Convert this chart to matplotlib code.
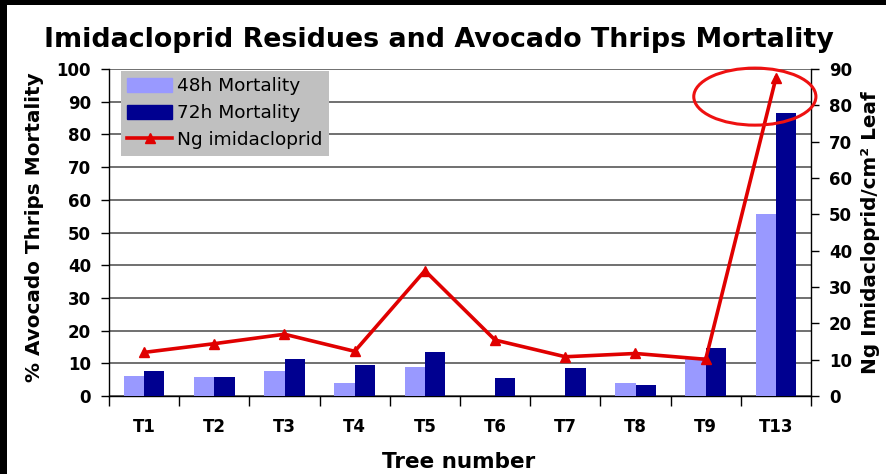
import matplotlib
matplotlib.use("Agg")
import matplotlib.pyplot as plt
from matplotlib.patches import Ellipse, Rectangle
from matplotlib.lines import Line2D
import numpy as np

trees = ["T1", "T2", "T3", "T4", "T5", "T6", "T7", "T8", "T9", "T13"]
mortality_48h = [6.2, 5.8, 7.6, 4.0, 8.9, 0.0, 0.0, 4.0, 12.0, 55.7]
mortality_72h = [7.6, 5.8, 11.3, 9.5, 13.5, 5.6, 8.6, 3.4, 14.8, 86.5]
ng_imidacloprid = [12.0, 14.4, 17.0, 12.3, 34.5, 15.4, 10.8, 11.7, 10.1, 87.5]

W, H = 886, 474
fig = plt.figure(figsize=(W / 100, H / 100), dpi=100, facecolor="white")
# dark frame along the top and left edges
for rect in [(0, 0, 7 / W, 1), (0, 1 - 5 / H, 1, 5 / H)]:
    fig.patches.append(Rectangle(rect[:2], rect[2], rect[3], transform=fig.transFigure,
                                 facecolor="black", edgecolor="none", zorder=20))

ax = fig.add_axes([109 / W, 78 / H, 702 / W, 327 / H])
ax.set_facecolor("white")
x = np.arange(len(trees))
bw = 0.29
ax.bar(x - bw / 2, mortality_48h, bw, color="#9999FF", label="48h Mortality", zorder=3)
ax.bar(x + bw / 2, mortality_72h, bw, color="#000090", label="72h Mortality", zorder=3)

ax.set_xlim(-0.5, len(trees) - 0.5)
ax.set_ylim(0, 100)
ax.set_yticks(np.arange(0, 101, 10))
ax.yaxis.grid(True, color="#707070", linewidth=1.4, zorder=0)
ax.set_axisbelow(True)

ax.set_xticks(x)
ax.set_xticklabels(trees)
ax.set_xticks(np.arange(-0.5, len(trees), 1.0), minor=True)
ax.tick_params(axis="x", which="major", length=0, pad=16)
ax.tick_params(axis="x", which="minor", length=7, width=1, direction="out")
ax.tick_params(axis="y", length=6, width=1, direction="out", pad=7)
for lab in ax.get_xticklabels() + ax.get_yticklabels():
    lab.set_fontfamily("DejaVu Sans")
    lab.set_fontweight("bold")
    lab.set_fontsize(12)

for side in ("top", "right"):
    ax.spines[side].set_visible(False)
ax.spines["left"].set_linewidth(1)
ax.spines["bottom"].set_linewidth(1)

ax2 = ax.twinx()
ax2.set_ylim(0, 90)
ax2.set_yticks(np.arange(0, 91, 10))
ax2.plot(x, ng_imidacloprid, color="#E00000", linewidth=2.6, marker="^",
         markersize=7, label="Ng imidacloprid", zorder=5)
ax2.tick_params(axis="y", length=6, width=1, direction="out", pad=7)
for lab in ax2.get_yticklabels():
    lab.set_fontfamily("DejaVu Sans")
    lab.set_fontweight("bold")
    lab.set_fontsize(12)
for side in ("top", "left", "bottom"):
    ax2.spines[side].set_visible(False)
ax2.spines["right"].set_linewidth(1)

# highlight around the T13 residue value
ax2.add_patch(Ellipse((8.70, 82.4), 1.74, 15.7, fill=False, edgecolor="#EE1111",
                      linewidth=2.2, clip_on=False, zorder=6))

bold = dict(fontweight="bold", family="DejaVu Sans")
fig.text(439 / W, 1 - 47 / H, "Imidacloprid Residues and Avocado Thrips Mortality",
         ha="center", va="baseline", fontsize=19.4, **bold)
fig.text(35 / W, 1 - 227 / H, "% Avocado Thrips Mortality", rotation=90, ha="center",
         va="center", fontsize=14.4, **bold)
fig.text(871 / W, 1 - 233 / H, "Ng Imidacloprid/cm² Leaf", rotation=90, ha="center",
         va="center", fontsize=14.4, **bold)
fig.text(459 / W, 1 - 468 / H, "Tree number", ha="center", va="baseline", fontsize=15.5,
         **bold)

handles = [
    Rectangle((0, 0), 1, 1, color="#9999FF"),
    Rectangle((0, 0), 1, 1, color="#000090"),
    Line2D([], [], color="#E00000", linewidth=2.6, marker="^", markersize=7),
]
leg = ax2.legend(handles, ["48h Mortality", "72h Mortality", "Ng imidacloprid"],
                 loc="upper left", bbox_to_anchor=(0.0171, 0.9939), frameon=True,
                 fancybox=False, framealpha=1, facecolor="#C0C0C0", edgecolor="none",
                 borderpad=0.35, handlelength=2.4, handleheight=0.81, handletextpad=0.27,
                 labelspacing=0.48, borderaxespad=0,
                 prop={"family": "DejaVu Sans", "size": 13.3})
leg.set_zorder(10)

fig.savefig("out.png", dpi=100, facecolor="white")
